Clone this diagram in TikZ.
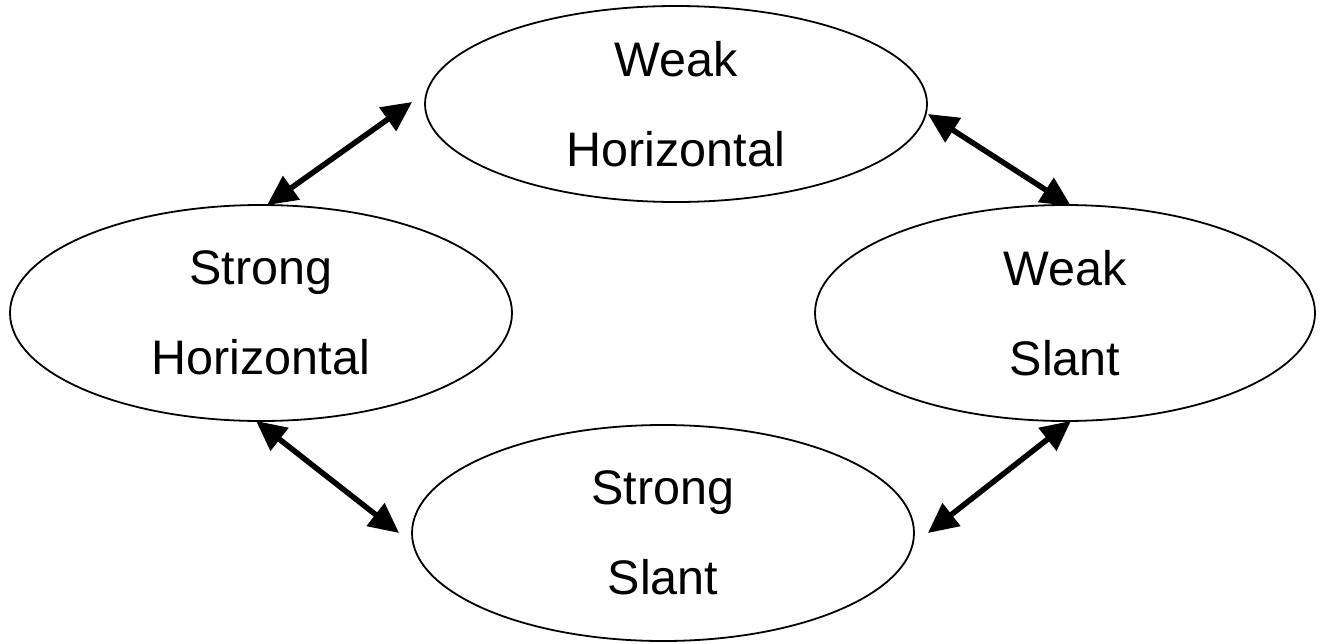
\documentclass[tikz,border=0pt]{standalone}
\usepackage{fontspec}
\setmainfont{Liberation Sans}
\usetikzlibrary{shapes.geometric,arrows.meta}
\begin{document}
\begin{tikzpicture}[x=1pt,y=-1pt,
  state/.style={draw=black, line width=1.8pt, ellipse, inner sep=0pt,
    minimum width=502pt, minimum height=216pt, align=center,
    font=\fontsize{48.5}{90}\selectfont},
  link/.style={line width=5.5pt, {Triangle[length=30pt,width=28pt]}-{Triangle[length=30pt,width=28pt]}}]
\useasboundingbox (0,0) rectangle (1324,643);
\node[state, minimum height=196pt] (wh) at (676,104) {Weak\\Horizontal};
\node[state] (sh) at (261,313) {Strong\\Horizontal};
\node[state, minimum width=500pt] (ws) at (1065,313) {Weak\\Slant};
\node[state] (ss) at (663,533) {Strong\\Slant};
\draw[link] ([xshift=6pt,yshift=-1pt]sh.north) -- ([xshift=-12pt,yshift=2pt]wh.west);
\draw[link] ([yshift=-10pt]wh.east) -- ([xshift=6pt,yshift=-2pt]ws.north);
\draw[link] ([xshift=-5pt,yshift=1pt]sh.south) -- ([xshift=-12pt]ss.west);
\draw[link] ([xshift=6pt,yshift=1pt]ws.south) -- ([xshift=13pt]ss.east);
\end{tikzpicture}
\end{document}
